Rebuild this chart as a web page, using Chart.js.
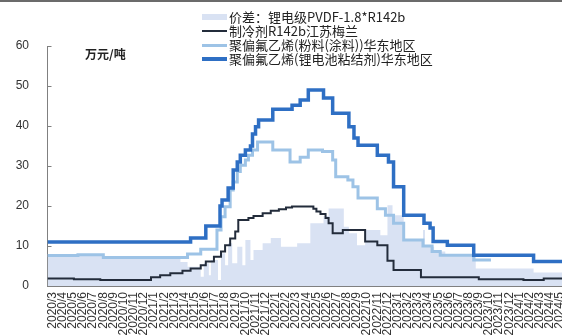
<!DOCTYPE html>
<html>
<head>
<meta charset="utf-8">
<script src="https://cdn.jsdelivr.net/npm/chart.js@4.4.1/dist/chart.umd.min.js"></script>
<style>
  body { margin: 0; background: #fff; }
  #wrap { position: relative; width: 562px; height: 336px; overflow: hidden; }
  #topline { position: absolute; left: 0; top: 0; width: 562px; height: 2px; background: #6b6b6b; }
  #legend { position: absolute; left: 202px; top: 10px; font: 13px "Noto Sans CJK SC", sans-serif; color: #222; }
  .item { display: flex; align-items: center; height: 14px; line-height: 14px; white-space: nowrap; }
  .sw { width: 25px; margin-right: 2px; }
  #unit { position: absolute; left: 85px; top: 45px; font: bold 12px "Noto Sans CJK SC", sans-serif; color: #222; }
</style>
</head>
<body>
<div id="wrap">
  <canvas id="myChart" width="562" height="336"></canvas>
  <div id="topline"></div>
  <div id="legend"></div>
  <div id="unit">万元/吨</div>
</div>
<script>
// month index: 0 = 2020/3, fractional values are dates inside a month
const monthLabels = [
  "2020/3", "2020/4", "2020/5", "2020/6", "2020/7", "2020/8", "2020/9", "2020/10", "2020/11", "2020/12",
  "2021/1", "2021/2", "2021/3", "2021/4", "2021/5", "2021/6", "2021/7", "2021/8", "2021/9", "2021/10", "2021/11", "2021/12",
  "2022/1", "2022/2", "2022/3", "2022/4", "2022/5", "2022/6", "2022/7", "2022/8", "2022/9", "2022/10", "2022/11", "2022/12",
  "2023/1", "2023/2", "2023/3", "2023/4", "2023/5", "2023/6", "2023/7", "2023/8", "2023/9", "2023/10", "2023/11", "2023/12",
  "2024/1", "2024/2", "2024/3", "2024/4", "2024/5",
];

// 价差：锂电级PVDF-1.8*R142b
const spreadX = [-0.5, 5.0, 12.6, 13.3, 14.6, 14.9, 15.4, 15.6, 16.3, 16.6, 17.0, 17.3, 17.7, 18.2, 18.7, 19.0, 19.5, 19.8, 20.7, 21.5,
  22.5, 24.1, 25.4, 26.7, 27.2, 28.7, 29.2, 30.0, 30.8, 32.3, 33.0, 33.5, 34.6, 36.5, 36.7, 37.6, 38.7, 41.7, 47.4, 50.2];
const spreadY = [8.0, 6.9, 6.0, 4.8, 2.3, 5.7, 2.7, 6.5, 1.5, 8.2, 5.2, 10.7, 5.7, 9.8, 5.2, 11.5, 6.5, 9.0, 10.7, 12.0,
  9.8, 10.7, 15.7, 17.5, 19.4, 14.8, 13.2, 10.2, 14, 12.7, 20.2, 17.7, 11.5, 14, 9.8, 8.6, 7.5, 4.4, 3.4, 3.4];

// 制冷剂R142b江苏梅兰
const r142bX = [-0.5, 2.1, 4.7, 9.7, 10.6, 11.6, 12.8, 13.6, 14.6, 15.1, 15.9, 16.6, 17.0, 17.5, 18.0, 18.3, 19.3, 19.8, 20.7, 21.5,
  22.3, 23.0, 23.6, 25.7, 26.0, 26.4, 26.9, 27.2, 27.6, 28.6, 30.8, 32.0, 33.0, 33.6, 36.3, 42.0, 46.4, 48.4, 50.2];
const r142bY = [1.9, 1.7, 1.5, 2.2, 2.7, 3.2, 3.8, 4.4, 5.2, 6.1, 7.3, 8.6, 10.2, 11.9, 13.6, 16.5, 17, 17.5, 18.2, 18.8,
  19.2, 19.6, 19.9, 19.3, 18.6, 18, 17, 15.7, 13.2, 14, 11.1, 10.2, 6.3, 4.0, 2.2, 1.7, 1.5, 1.9, 1.9];

// 聚偏氟乙烯(粉料(涂料))华东地区
const coatingX = [-0.5, 2.5, 5.0, 13.3, 14.6, 16.2, 16.6, 17.0, 17.5, 17.8, 18.2, 18.5, 19.0, 19.3, 19.7, 20.2, 21.7, 23.4,
  24.4, 25.2, 26.6, 27.6, 27.9, 29.1, 29.6, 30.1, 32.0, 32.8, 33.6, 34.6, 36.5, 37.4, 38.2, 41.5, 43.2];
const coatingY = [7.6, 7.8, 7.1, 8.0, 9.2, 14, 17.3, 19.8, 24, 26, 28.6, 30.2, 31.5, 32.7, 34, 36, 34, 31,
  32.2, 34, 33.6, 31.5, 27.3, 26.5, 24.8, 22, 19.3, 17.7, 15.7, 11.5, 10.0, 8.6, 7.7, 6.5, 6.5];

// 聚偏氟乙烯(锂电池粘结剂)华东地区
const binderX = [-0.5, 13.6, 15.1, 16.5, 16.7, 17.3, 17.8, 18.2, 18.5, 19.0, 19.5, 19.7, 20.0, 20.3, 21.7, 23.6, 24.4,
  25.2, 26.7, 27.6, 29.2, 29.7, 30.1, 32.0, 33.1, 33.6, 34.6, 36.6, 37.2, 37.5, 38.9, 41.5, 47.4, 50.2];
const binderY = [11.0, 12.0, 15.0, 20.0, 21.5, 24.5, 29, 31, 32.7, 34, 35, 38, 39.8, 41.5, 44.2, 45.2, 46.5,
  49, 47, 43.2, 39.8, 37, 35.2, 32.7, 31, 24.8, 17.7, 15.7, 14.5, 11.1, 10.2, 7.7, 6.1, 6.1];

function toPoints(xs, ys) {
  return xs.map((x, i) => ({ x: x, y: ys[i] }));
}

const datasets = [
  {
    label: "价差：锂电级PVDF-1.8*R142b",
    data: toPoints(spreadX, spreadY),
    stepped: true,
    fill: "origin",
    backgroundColor: "rgb(217,226,243)",
    borderColor: "rgba(0,0,0,0)",
    borderWidth: 0,
    order: 4,
    swatch: 6,
  },
  {
    label: "制冷剂R142b江苏梅兰",
    data: toPoints(r142bX, r142bY),
    stepped: true,
    fill: false,
    borderColor: "#232c3b",
    borderWidth: 2,
    order: 3,
    swatch: 2,
  },
  {
    label: "聚偏氟乙烯(粉料(涂料))华东地区",
    data: toPoints(coatingX, coatingY),
    stepped: true,
    fill: false,
    borderColor: "#9dc3e6",
    borderWidth: 3,
    order: 2,
    swatch: 3,
  },
  {
    label: "聚偏氟乙烯(锂电池粘结剂)华东地区",
    data: toPoints(binderX, binderY),
    stepped: true,
    fill: false,
    borderColor: "#2e6fc4",
    borderWidth: 3.5,
    order: 1,
    swatch: 4,
  },
];

const tickFont = { family: "'Liberation Sans', Arial, sans-serif", size: 12 };

const config = {
  type: "line",
  data: { datasets: datasets },
  options: {
    responsive: false,
    animation: false,
    devicePixelRatio: 1,
    elements: { point: { radius: 0 } },
    layout: { autoPadding: false, padding: { top: 46, right: 0, bottom: 0, left: 0 } },
    plugins: { legend: { display: false }, tooltip: { enabled: false } },
    scales: {
      x: {
        type: "linear",
        min: -0.5,
        max: 50.2,
        afterBuildTicks: (scale) => {
          scale.ticks = monthLabels.map((l, i) => ({ value: i }));
        },
        afterFit: (scale) => {
          scale.height = 50;
          // the last label is allowed to run off the right edge, like the source
          scale.paddingLeft = 0;
          scale.paddingRight = 0;
        },
        ticks: {
          autoSkip: false,
          maxRotation: 90,
          minRotation: 90,
          padding: 10,
          color: "#333",
          font: tickFont,
          callback: (v) => monthLabels[v],
        },
        grid: { drawOnChartArea: false, tickLength: -4, color: "#808080" },
        border: { color: "#808080" },
      },
      y: {
        min: 0,
        max: 60,
        afterFit: (scale) => {
          scale.width = 47.5;
        },
        ticks: { stepSize: 10, padding: 22.5, color: "#333", font: tickFont },
        grid: { drawOnChartArea: false, tickLength: -4, color: "#808080" },
        border: { color: "#808080" },
      },
    },
  },
};

const myChart = new Chart(document.getElementById("myChart"), config);

// legend, one item per row
const legend = document.getElementById("legend");
datasets.forEach((ds) => {
  const row = document.createElement("div");
  row.className = "item";
  const sw = document.createElement("span");
  sw.className = "sw";
  sw.style.height = ds.swatch + "px";
  sw.style.background = ds.fill === "origin" ? ds.backgroundColor : ds.borderColor;
  const txt = document.createElement("span");
  txt.textContent = ds.label;
  row.appendChild(sw);
  row.appendChild(txt);
  legend.appendChild(row);
});
</script>
</body>
</html>
